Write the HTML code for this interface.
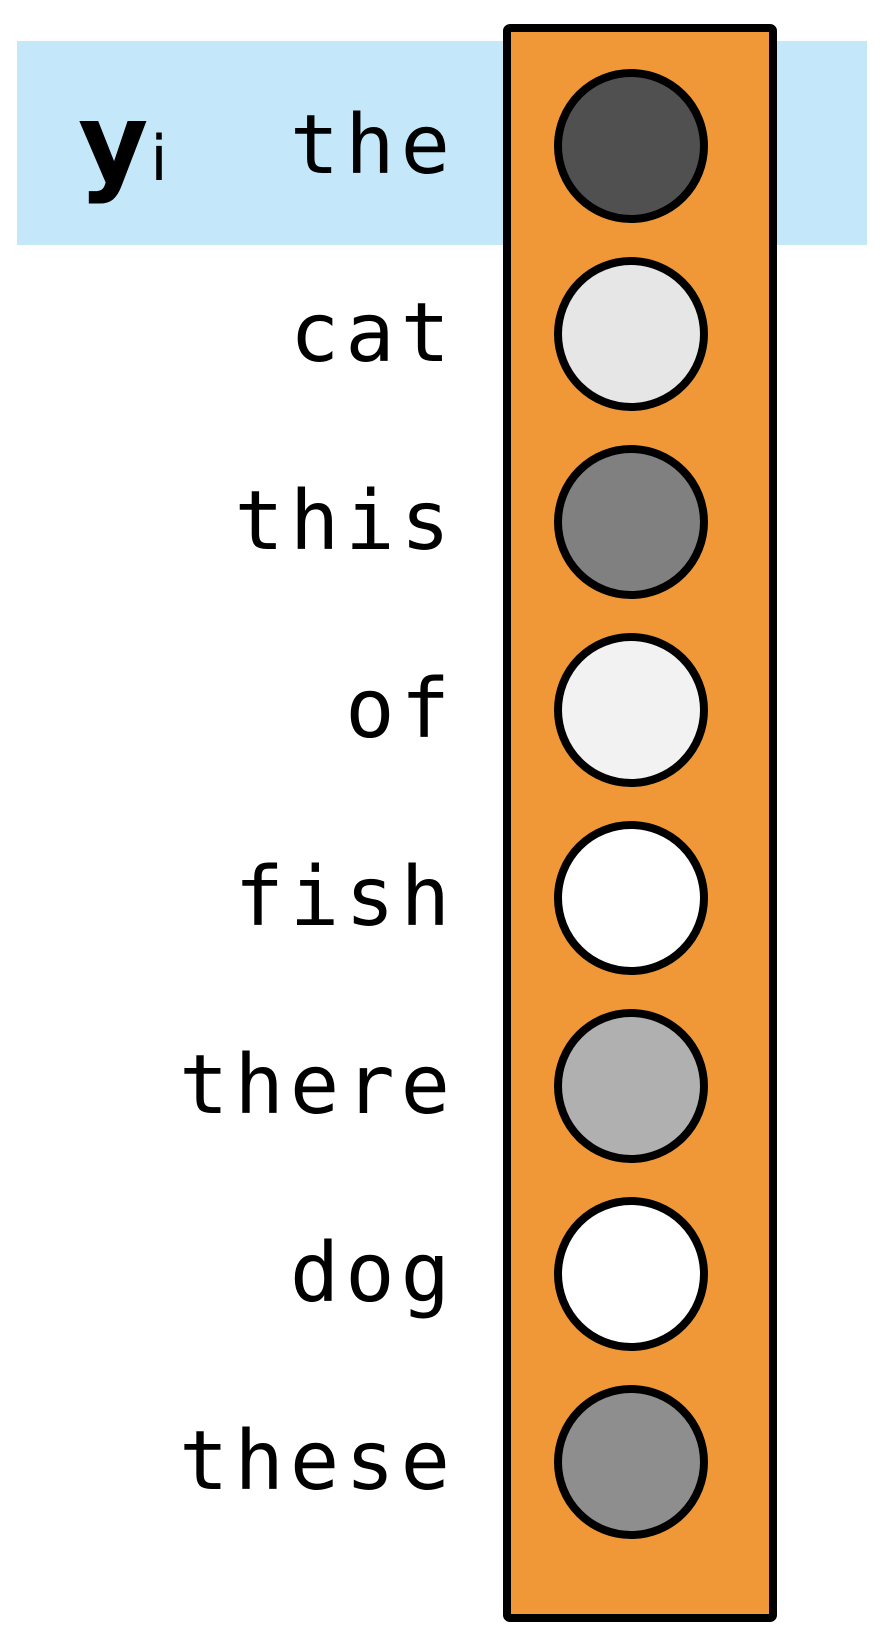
<!DOCTYPE html>
<html><head><meta charset="utf-8"><style>
html,body{margin:0;padding:0;background:#fff;width:884px;height:1644px;overflow:hidden}
svg{display:block}
</style></head><body>
<svg id="chart" width="884" height="1644" viewBox="0 0 884 1644" xmlns="http://www.w3.org/2000/svg">
  <rect x="17" y="41" width="850" height="204" fill="#c4e8fa"/>
  <rect x="507" y="28" width="266" height="1590" rx="3" fill="#f09837" stroke="#000" stroke-width="8"/>
  <text x="78" y="180" font-family="'DejaVu Sans','Liberation Sans',sans-serif" font-weight="bold" font-size="108">y<tspan font-size="62" font-weight="normal" dx="2">i</tspan></text>
  <g id="rows"></g>
</svg>
<script>
const words = ["the","cat","this","of","fish","there","dog","these"];
const shades = ["#505050","#e6e6e6","#808080","#f2f2f2","#ffffff","#b0b0b0","#ffffff","#8e8e8e"];
const rows = document.getElementById('rows');
const NS = "http://www.w3.org/2000/svg";
function yPos(i){ return 146 + i * 188; }
words.forEach((w,i)=>{
  const t = document.createElementNS(NS,'text');
  t.setAttribute('x', 456);
  t.setAttribute('y', yPos(i) + 27);
  t.setAttribute('text-anchor','end');
  t.setAttribute('font-family',"'DejaVu Sans Mono','Liberation Mono',monospace");
  t.setAttribute('font-size','82');
  t.setAttribute('letter-spacing','6');
  t.textContent = w;
  
  
  rows.appendChild(t);
  const c = document.createElementNS(NS,'circle');
  c.setAttribute('cx', 631);
  c.setAttribute('cy', yPos(i));
  c.setAttribute('r', 73);
  c.setAttribute('fill', shades[i]);
  c.setAttribute('stroke', '#000');
  c.setAttribute('stroke-width', '8');
  
  
  rows.appendChild(c);
});
</script>
</body></html>
